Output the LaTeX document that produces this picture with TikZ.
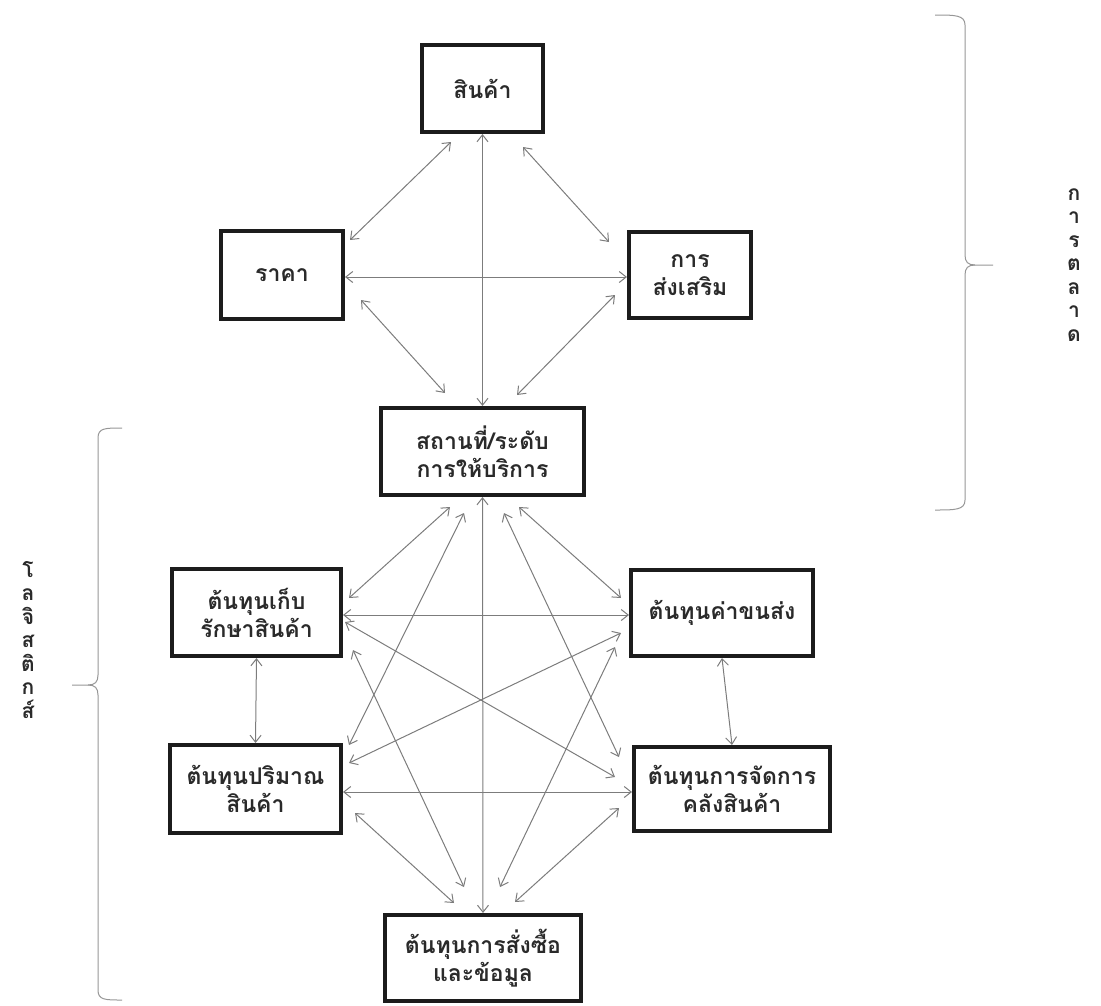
\documentclass[tikz,border=0pt]{standalone}
\usepackage{fontspec}
\setmainfont[Script=Thai]{Loma}
\usetikzlibrary{arrows.meta,calc}
\definecolor{ink}{HTML}{1C1C1C}
\definecolor{wire}{HTML}{7C7C7C}
\definecolor{txt}{HTML}{2A2A2A}
\begin{document}
\begin{tikzpicture}[x=1pt,y=-1pt,
  box/.style={draw=ink, line width=4pt, fill=white, align=center, text=txt,
    font=\fontsize{23}{28}\selectfont\bfseries, inner sep=0pt},
  link/.style={draw=wire, line width=1pt,
    {Straight Barb[length=7pt,width=11pt]}-{Straight Barb[length=7pt,width=11pt]}},
  brace/.style={draw=wire!80, line width=1pt},
  side/.style={align=center, text=txt, font=\fontsize{21}{23.5}\selectfont\bfseries, inner sep=0pt}
]
\useasboundingbox (0,0) rectangle (1101,1005);

% marketing mix
\node[box, minimum width=121pt, minimum height=87pt] (prod)  at (482.5,88.5) {สินค้า};
\node[box, minimum width=122pt, minimum height=88pt] (price) at (282,275)    {ราคา};
\node[box, minimum width=122pt, minimum height=86pt] (promo) at (690,275)    {การ\\ส่งเสริม};
\node[box, minimum width=203pt, minimum height=87pt] (place) at (482.5,451.5){สถานที่/ระดับ\\การให้บริการ};

% logistics costs
\node[box, minimum width=169pt, minimum height=87pt] (store) at (256.5,612.5) {ต้นทุนเก็บ\\รักษาสินค้า};
\node[box, minimum width=182pt, minimum height=86pt] (trans) at (722,613)     {ต้นทุนค่าขนส่ง};
\node[box, minimum width=171pt, minimum height=88pt] (qty)   at (255.5,789)   {ต้นทุนปริมาณ\\สินค้า};
\node[box, minimum width=196pt, minimum height=84pt] (wh)    at (732,789)     {ต้นทุนการจัดการ\\คลังสินค้า};
\node[box, minimum width=196pt, minimum height=86pt] (order) at (483,958)     {ต้นทุนการสั่งซื้อ\\และข้อมูล};

% links among the marketing mix
\draw[link] ($(prod.south)+(-31.5,8)$) -- ($(price.east)+(5,-35)$);
\draw[link] ($(prod.south)+(40.5,13)$) -- ($(promo.west)+(-18,-33)$);
\draw[link] (prod.south) -- (place.north);
\draw[link] ($(price.east)+(0,2)$) -- ($(promo.west)+(0,2)$);
\draw[link] ($(price.east)+(16,25)$) -- ($(place.north)+(-37.5,-13)$);
\draw[link] ($(promo.west)+(-12,20)$) -- ($(place.north)+(34.5,-11)$);

% links from place to the logistics costs
\draw[link] ($(place.south)+(-32.5,10)$) -- ($(store.east)+(6,-14.5)$);
\draw[link] ($(place.south)+(-18.5,16)$) -- ($(qty.east)+(6,-44)$);
\draw[link] ($(place.south)+(21.5,16)$) -- ($(wh.west)+(-13,-32)$);
\draw[link] ($(place.south)+(36.5,10)$) -- ($(trans.west)+(-8,-15)$);
\draw[link] (place.south) -- (order.north);

% links among the logistics costs
\draw[link] ($(store.east)+(0,2.5)$) -- ($(trans.west)+(0,2)$);
\draw[link] ($(store.east)+(2,9.5)$) -- ($(wh.west)+(-17,-12)$);
\draw[link] ($(store.south east)+(10,-8)$) -- ($(order.north)+(-19,-26)$);
\draw[link] ($(trans.west)+(-8,20)$) -- ($(qty.east)+(6,-26)$);
\draw[link] ($(trans.west)+(-14,34)$) -- ($(order.north)+(17,-26)$);
\draw[link] ($(qty.east)+(0,3)$) -- ($(wh.west)+(0,3)$);
\draw[link] ($(qty.east)+(12,24)$) -- ($(order.north)+(-29,-10)$);
\draw[link] ($(wh.west)+(-13,19)$) -- ($(order.north)+(32,-11)$);
\draw[link] (store.south) -- (qty.north);
\draw[link] (trans.south) -- (wh.north);

% right brace: marketing
\draw[brace] (935,15) .. controls (955,15) and (965,15) .. (965,25) -- (965,255)
  .. controls (965,262) and (968,265) .. (975,265) -- (993,265);
\draw[brace] (975,265) .. controls (968,265) and (965,268) .. (965,275) -- (965,500)
  .. controls (965,510) and (955,510) .. (935,510);
\node[side] (mkt) at (1074,265) {ก\\า\\ร\\ต\\ล\\า\\ด};

% left brace: logistics
\draw[brace] (122,428) .. controls (105,428) and (98,428) .. (98,438) -- (98,675)
  .. controls (98,682) and (95,685) .. (88,685) -- (72,685);
\draw[brace] (88,685) .. controls (95,685) and (98,688) .. (98,695) -- (98,990)
  .. controls (98,1000) and (105,1000) .. (122,1000);
\node[side] (lgs) at (28,640) {โ\\ล\\จิ\\ส\\ติ\\ก\\ส์};
\end{tikzpicture}
\end{document}
